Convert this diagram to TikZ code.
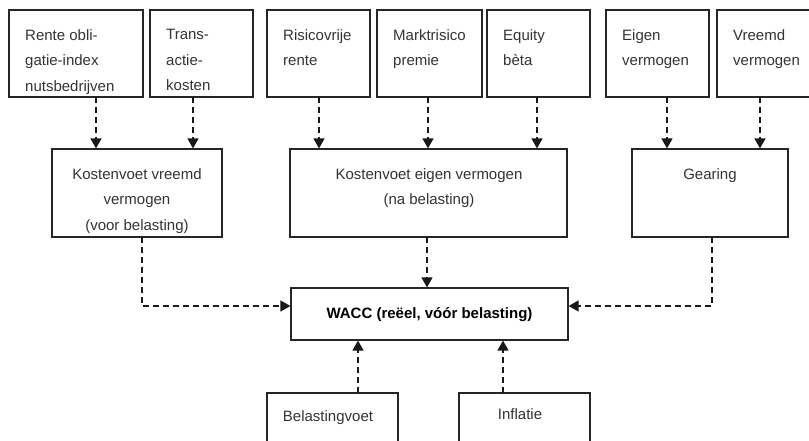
\documentclass[tikz,border=0pt]{standalone}
\usepackage{fontspec}
\setmainfont{Liberation Sans}
\usetikzlibrary{arrows.meta}

\begin{document}
\begin{tikzpicture}[x=1pt, y=-1pt,
  box/.style={draw=black!85, line width=1.2pt, inner sep=0pt, outer sep=0pt},
  lbl/.style={inner sep=0pt, text=black!80, font={\fontsize{15}{25.5}\selectfont}},
  link/.style={draw=black!90, line width=1.3pt, dash pattern=on 6pt off 4pt,
    -{Triangle[width=11pt,length=10pt]}, shorten >=0.6pt}]
\useasboundingbox (0,0) rectangle (809,441);
\clip (0,0) rectangle (809,441);

% top row
\node[box, minimum width=134pt, minimum height=87pt] (rente) at (76,53.5) {};
\node[box, minimum width=103pt, minimum height=87pt] (trans) at (201.5,53.5) {};
\node[box, minimum width=103pt, minimum height=87pt] (risico) at (318.5,53.5) {};
\node[box, minimum width=105pt, minimum height=87pt] (markt) at (429.5,53.5) {};
\node[box, minimum width=103pt, minimum height=87pt] (beta) at (538.5,53.5) {};
\node[box, minimum width=103pt, minimum height=87pt] (eigen) at (657.5,53.5) {};
\node[box, minimum width=103pt, minimum height=87pt] (vreemd) at (768.5,53.5) {};

\node[lbl, align=left, anchor=north west] (rente-t) at (25,29) {Rente obli-\\gatie-index\\nutsbedrijven};
\node[lbl, align=left, anchor=north west] (trans-t) at (166,29) {Trans-\\actie-\\kosten};
\node[lbl, align=left, anchor=north west] (risico-t) at (283,29) {Risicovrije\\rente};
\node[lbl, align=left, anchor=north west] (markt-t) at (393,29) {Marktrisico\\premie};
\node[lbl, align=left, anchor=north west] (beta-t) at (503,29) {Equity\\bèta};
\node[lbl, align=left, anchor=north west] (eigen-t) at (622,29) {Eigen\\vermogen};
\node[lbl, align=left, anchor=north west] (vreemd-t) at (733,29) {Vreemd\\vermogen};

% middle row
\node[box, minimum width=170pt, minimum height=88pt] (kvv) at (137,193) {};
\node[box, minimum width=277pt, minimum height=88pt] (kev) at (428.5,193) {};
\node[box, minimum width=156pt, minimum height=88pt] (gear) at (710,193) {};

\node[lbl, align=center, anchor=north] (kvv-t) at (137,168) {Kostenvoet vreemd\\vermogen\\(voor belasting)};
\node[lbl, align=center, anchor=north] (kev-t) at (429,168) {Kostenvoet eigen vermogen\\(na belasting)};
\node[lbl, align=center, anchor=north] (gear-t) at (710,168) {Gearing};

% WACC
\node[box, minimum width=277pt, minimum height=52pt] (wacc) at (429.5,314) {};
\node[lbl, anchor=base, text=black] (wacc-t) at (429.5,318) {\bfseries WACC (reëel, vóór belasting)};

% bottom row
\node[box, minimum width=131pt, minimum height=80pt] (tax) at (332.5,433) {};
\node[box, minimum width=131pt, minimum height=80pt] (infl) at (524.5,433) {};
\node[lbl, anchor=base] (tax-t) at (328,421) {Belastingvoet};
\node[lbl, anchor=base] (infl-t) at (520,419) {Inflatie};

% connectors
\draw[link] ([xshift=20pt]rente.south) -- ([xshift=20pt]rente.south |- kvv.north);
\draw[link] ([xshift=-8.5pt]trans.south) -- ([xshift=-8.5pt]trans.south |- kvv.north);
\draw[link] ([xshift=0.5pt]risico.south) -- ([xshift=0.5pt]risico.south |- kev.north);
\draw[link] ([xshift=-1.5pt]markt.south) -- ([xshift=-1.5pt]markt.south |- kev.north);
\draw[link] ([xshift=-1.5pt]beta.south) -- ([xshift=-1.5pt]beta.south |- kev.north);
\draw[link] ([xshift=9.5pt]eigen.south) -- ([xshift=9.5pt]eigen.south |- gear.north);
\draw[link] ([xshift=-8.5pt]vreemd.south) -- ([xshift=-8.5pt]vreemd.south |- gear.north);

\draw[link] ([xshift=5pt]kvv.south) |- ([yshift=8pt]wacc.west);
\draw[link] ([xshift=-1.5pt]kev.south) -- ([xshift=-1.5pt]kev.south |- wacc.north);
\draw[link] ([xshift=2pt]gear.south) |- ([yshift=8pt]wacc.east);

\draw[link] ([xshift=25.5pt]tax.north) -- ([xshift=25.5pt]tax.north |- wacc.south);
\draw[link] ([xshift=-21.5pt]infl.north) -- ([xshift=-21.5pt]infl.north |- wacc.south);
\end{tikzpicture}
\end{document}
